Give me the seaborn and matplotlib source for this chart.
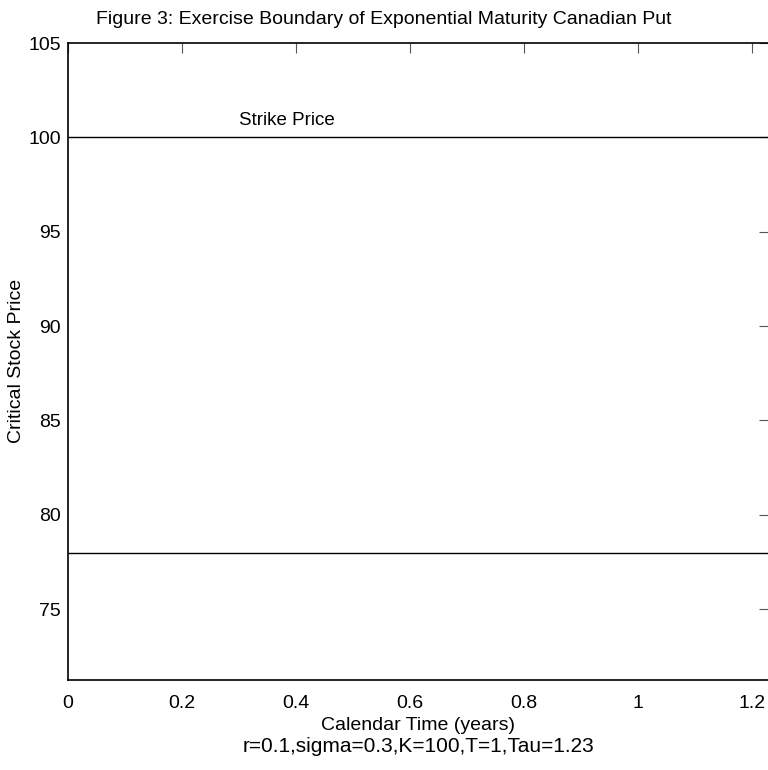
import matplotlib
matplotlib.use("Agg")
import matplotlib.pyplot as plt
import seaborn as sns
import pandas as pd

# Data
calendar_time = [0.0, 1.23]
strike_price = [100.0, 100.0]
critical_price = [77.99, 77.99]
x_ticks = [0, 0.2, 0.4, 0.6, 0.8, 1.0, 1.2]
x_tick_labels = ["0", "0.2", "0.4", "0.6", "0.8", "1", "1.2"]
y_ticks = [75, 80, 85, 90, 95, 100, 105]

sns.set_theme(style="white")
plt.rcParams["font.family"] = ["Liberation Sans", "DejaVu Sans"]
plt.rcParams["text.color"] = "black"
plt.rcParams["axes.labelcolor"] = "black"

FS = 14

fig = plt.figure(figsize=(7.68, 7.70), dpi=100)
ax = fig.add_axes([68 / 768, 1 - 680 / 770, 1.0 - 68 / 768 + 0.001, (680 - 43) / 770])

df = pd.DataFrame({"t": calendar_time + calendar_time,
                   "S": strike_price + critical_price,
                   "series": ["Strike"] * 2 + ["Boundary"] * 2})
sns.lineplot(data=df, x="t", y="S", units="series", estimator=None,
             color="black", linewidth=1.0, ax=ax)

ax.set_xlim(0, 1.23)
ax.set_ylim(71.25, 105)
ax.set_xticks(x_ticks)
ax.set_xticklabels(x_tick_labels)
ax.set_yticks(y_ticks)
ax.tick_params(direction="in", length=7, width=0.8, color="#555555",
               top=True, right=True, labelsize=FS, labelcolor="black")
ax.tick_params(axis="x", pad=11)
ax.tick_params(axis="y", pad=5)
for sp in ax.spines.values():
    sp.set_color("black")
    sp.set_linewidth(1.2)

ax.text(0.3, 100.9, "Strike Price", fontsize=13.5, va="center", ha="left")

ax.set_xlabel("")
ax.set_ylabel("")
fig.text(418 / 768, 1 - 725 / 770, "Calendar Time (years)", fontsize=FS,
         ha="center", va="center")
fig.text(17 / 768, 1 - 361 / 770, "Critical Stock Price", fontsize=FS,
         ha="center", va="center", rotation=90)
fig.text(419 / 768, 1 - 747 / 770, "r=0.1,sigma=0.3,K=100,T=1,Tau=1.23",
         fontsize=15, ha="center", va="center")
fig.text(0.5, 1 - 20 / 770, "Figure 3: Exercise Boundary of Exponential Maturity Canadian Put",
         fontsize=FS, ha="center", va="center")

fig.savefig("out.png", dpi=100)
